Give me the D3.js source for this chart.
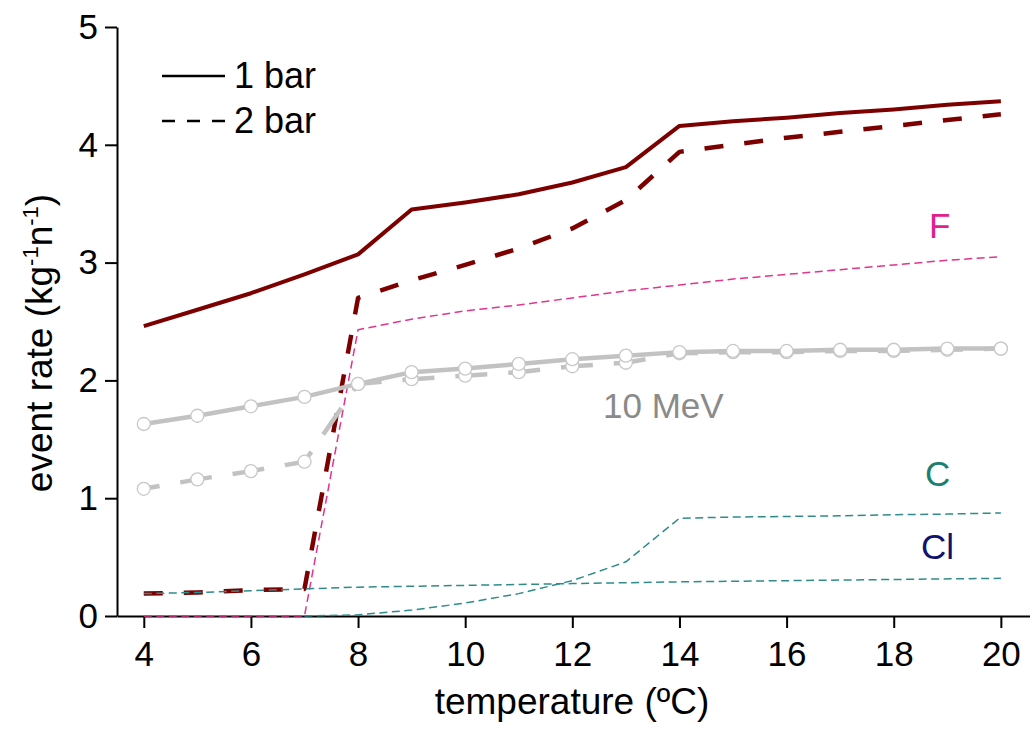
<!DOCTYPE html>
<html>
<head>
<meta charset="utf-8">
<script src="https://cdn.jsdelivr.net/npm/d3@7"></script>
<style>
    body { margin: 0; background: #fff; }
    svg { display: block; font-family: "Liberation Sans", Arial, sans-serif; }
</style>
</head>
<body>
<svg id="chart" width="1030" height="729"></svg>
<script>
// temperatures (ºC) and event rates (kg-1 n-1)
const temps = [4, 5, 6, 7, 8, 9, 10, 11, 12, 13, 14, 15, 16, 17, 18, 19, 20];
const totalOneBar = [2.46, 2.60, 2.74, 2.90, 3.07, 3.45, 3.51, 3.58, 3.68, 3.81, 4.16, 4.20, 4.23, 4.27, 4.30, 4.34, 4.37];
const totalTwoBar = [0.19, 0.20, 0.22, 0.23, 2.70, 2.85, 2.98, 3.12, 3.29, 3.53, 3.94, 4.00, 4.06, 4.11, 4.16, 4.21, 4.26];
const mevOneBar = [1.63, 1.70, 1.78, 1.86, 1.97, 2.07, 2.10, 2.14, 2.18, 2.21, 2.24, 2.25, 2.25, 2.26, 2.26, 2.27, 2.27];
const mevTwoBar = [1.08, 1.16, 1.23, 1.31, 1.97, 2.01, 2.04, 2.07, 2.12, 2.15, 2.23, 2.24, 2.24, 2.25, 2.25, 2.26, 2.27];

const fluorineTemps = [4, 5, 6, 7, 8, 9, 10, 11, 12, 13, 14, 15, 16, 17, 18, 19, 20];
const fluorineRate = [0, 0, 0, 0, 2.43, 2.52, 2.59, 2.64, 2.70, 2.76, 2.81, 2.86, 2.90, 2.94, 2.98, 3.02, 3.05];
const carbonTemps = [7, 8, 9, 10, 11, 12, 13, 14, 15, 16, 17, 18, 19, 20];
const carbonRate = [0, 0.01, 0.05, 0.11, 0.19, 0.30, 0.46, 0.83, 0.84, 0.845, 0.85, 0.86, 0.865, 0.875];
const chlorineTemps = [4, 5, 6, 7, 8, 10, 12, 14, 16, 18, 20];
const chlorineRate = [0.19, 0.20, 0.215, 0.23, 0.245, 0.26, 0.275, 0.29, 0.30, 0.31, 0.32];

const xMajorTicks = [4, 6, 8, 10, 12, 14, 16, 18, 20];
const xMinorTicks = [5, 7, 9, 11, 13, 15, 17, 19];
const yMajorTicks = [0, 1, 2, 3, 4, 5];
const yMinorTicks = [0.5, 1.5, 2.5, 3.5, 4.5];

const darkRed = '#7d0000';
const gray = '#c2c2c2';
const pink = '#e2338f';
const teal = '#2f8b8b';

const svg = d3.select('#chart');

const x = d3.scaleLinear().domain([3.5, 20.6]).range([117, 1033]);
const y = d3.scaleLinear().domain([0, 5]).range([616, 27]);

// axes
const xAxisG = svg.append('g').attr('transform', 'translate(0,616)');
xAxisG.call(d3.axisBottom(x).tickValues(xMinorTicks).tickSize(7).tickSizeOuter(0).tickFormat(''));
xAxisG.call(d3.axisBottom(x).tickValues(xMajorTicks).tickSize(12).tickSizeOuter(0)
    .tickPadding(13).tickFormat(d3.format('d')));

const yAxisG = svg.append('g').attr('transform', 'translate(117,0)');
yAxisG.call(d3.axisLeft(y).tickValues(yMinorTicks).tickSize(6).tickSizeOuter(0).tickFormat(''));
yAxisG.call(d3.axisLeft(y).tickValues(yMajorTicks).tickSize(12).tickSizeOuter(0)
    .tickPadding(7).tickFormat(d3.format('d')));

svg.selectAll('.domain').attr('stroke', '#000').attr('stroke-width', 2);
svg.selectAll('.tick line').attr('stroke', '#000').attr('stroke-width', 2);
svg.selectAll('.tick text').attr('fill', '#000').style('font-size', '35px')
    .style('font-family', '"Liberation Sans", Arial, sans-serif');

// axis titles
svg.append('text')
    .attr('x', 572)
    .attr('y', 714)
    .attr('text-anchor', 'middle')
    .style('font-size', '37px')
    .text('temperature (ºC)');

const yTitle = svg.append('text')
    .attr('transform', 'translate(52,343) rotate(-90)')
    .attr('text-anchor', 'middle')
    .style('font-size', '37px');
yTitle.append('tspan').text('event rate (kg');
yTitle.append('tspan').attr('dy', -14).style('font-size', '22px').text('-1');
yTitle.append('tspan').attr('dy', 14).text('n');
yTitle.append('tspan').attr('dy', -14).style('font-size', '22px').text('-1');
yTitle.append('tspan').attr('dy', 14).text(')');

const line = d3.line()
    .x(d => x(d[0]))
    .y(d => y(d[1]));

function drawSeries(xs, ys, color, width, dash, offset) {
    return svg.append('path')
        .datum(d3.zip(xs, ys))
        .attr('d', line)
        .attr('fill', 'none')
        .attr('stroke', color)
        .attr('stroke-width', width)
        .attr('stroke-dasharray', dash)
        .attr('stroke-dashoffset', offset || 0)
        .attr('stroke-linejoin', 'round');
}

// total rates
drawSeries(temps, totalOneBar, darkRed, 4, null);
drawSeries(temps, totalTwoBar, darkRed, 4.5, '19,21');

// per-element contributions
drawSeries(fluorineTemps, fluorineRate, pink, 1.5, '8,4.5');
drawSeries(carbonTemps, carbonRate, teal, 1.5, '8,4.5');
drawSeries(chlorineTemps, chlorineRate, teal, 1.5, '8,4.5');

// 10 MeV threshold curves
drawSeries(temps, mevOneBar, gray, 4.5, null);
drawSeries(temps, mevTwoBar, gray, 4.5, '32,21', 16);

const markers = svg.append('g');
[mevTwoBar, mevOneBar].forEach(vals => {
    markers.selectAll(null)
        .data(d3.zip(temps, vals))
        .enter()
        .append('circle')
        .attr('cx', d => x(d[0]))
        .attr('cy', d => y(d[1]))
        .attr('r', 6.5)
        .attr('fill', '#fff')
        .attr('stroke', '#c8c8c8')
        .attr('stroke-width', 1.3);
});

// curve labels
const labels = [
    { text: 'F', x: 929, y: 238, color: '#e0228a' },
    { text: '10 MeV', x: 603, y: 418, color: '#8a8a8a' },
    { text: 'C', x: 925, y: 486, color: '#1b7f72' },
    { text: 'Cl', x: 921, y: 559, color: '#12126e' }
];
svg.selectAll(null)
    .data(labels)
    .enter()
    .append('text')
    .attr('x', d => d.x)
    .attr('y', d => d.y)
    .attr('fill', d => d.color)
    .style('font-size', '35px')
    .text(d => d.text);

// legend
const legend = svg.append('g');
legend.append('line')
    .attr('x1', 162).attr('x2', 225).attr('y1', 76).attr('y2', 76)
    .attr('stroke', '#000').attr('stroke-width', 2.5);
legend.append('line')
    .attr('x1', 162).attr('x2', 225).attr('y1', 121).attr('y2', 121)
    .attr('stroke', '#000').attr('stroke-width', 2.5).attr('stroke-dasharray', '13,12');
legend.append('text').attr('x', 234).attr('y', 88).style('font-size', '36px').text('1 bar');
legend.append('text').attr('x', 234).attr('y', 133).style('font-size', '36px').text('2 bar');
</script>
</body>
</html>
